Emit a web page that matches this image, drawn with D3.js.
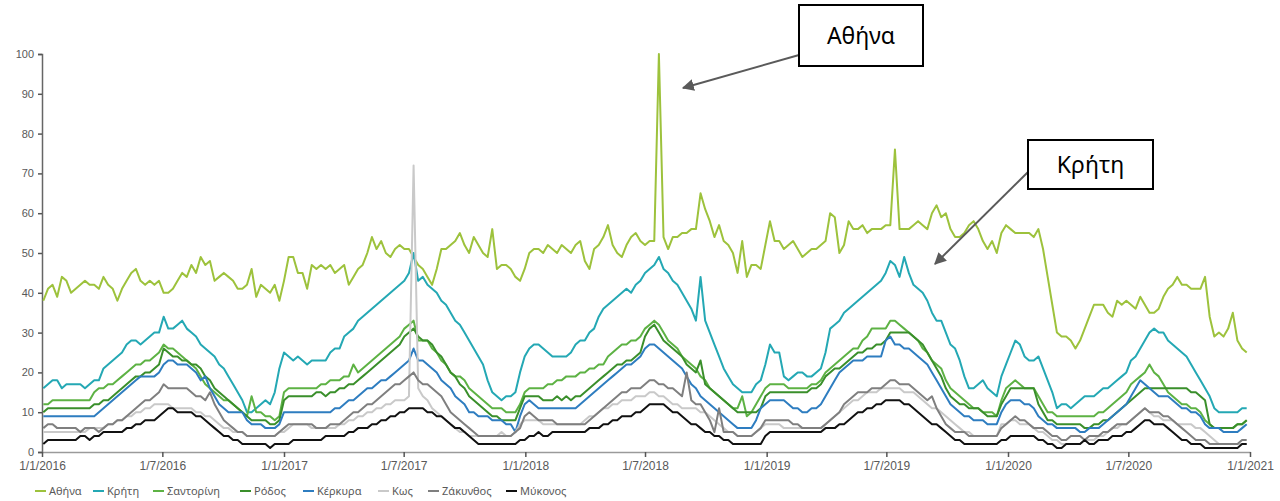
<!DOCTYPE html>
<html><head><meta charset="utf-8">
<script src="https://cdn.jsdelivr.net/npm/d3@7"></script>
<style>
body{margin:0;background:#fff;}
svg{display:block;font-family:"Noto Sans","Open Sans",sans-serif;}
</style></head>
<body><svg id="c" width="1280" height="501"></svg>
<script>
// Weekly observations starting 2016-01-03 (one value per week, 261 weeks)
const startWeek = "2016-01-03";
const seriesNames = ["Αθήνα","Κρήτη","Σαντορίνη","Ρόδος","Κέρκυρα","Κως","Ζάκυνθος","Μύκονος"];
const yTicks = [0,10,20,30,40,50,60,70,80,90,100];
const xTickLabels = ["1/1/2016","1/7/2016","1/1/2017","1/7/2017","1/1/2018","1/7/2018","1/1/2019","1/7/2019","1/1/2020","1/7/2020","1/1/2021"];

const athens = [
38,41,42,39,44,43,40,41,42,43,42,42,41,44,42,41,38,41,43,45,46,43,42,43,42,43,
40,40,41,43,45,44,47,45,49,47,48,43,44,45,44,43,41,41,42,46,39,42,41,40,42,38,
43,49,49,45,45,41,47,46,47,46,47,45,46,47,42,44,46,47,50,54,51,53,50,49,51,52,
51,51,49,47,46,44,42,46,51,51,52,53,55,52,50,54,52,50,49,56,46,47,47,46,44,43,
46,50,51,51,50,52,51,50,52,51,50,52,53,48,46,51,52,54,57,52,50,49,52,54,55,53,
52,53,53,100,54,51,54,54,55,55,56,56,65,61,58,54,57,53,52,50,45,53,44,47,47,46,
52,58,53,53,51,52,53,51,49,50,51,51,52,53,60,59,50,52,58,56,56,57,55,56,56,56,
57,57,76,56,56,56,57,58,57,56,60,62,59,60,56,54,54,55,57,58,56,53,51,53,50,55,
57,56,55,55,55,55,54,56,51,44,37,30,29,29,28,26,28,31,34,37,37,37,35,34,38,37,
38,37,36,39,37,35,35,36,39,41,42,44,42,42,41,41,41,44,34,29,30,29,31,35,28,26,
25];
const crete = [
16,17,18,18,16,17,17,17,17,16,17,18,18,21,22,23,24,25,27,28,28,27,28,29,30,30,
34,31,31,32,33,31,30,29,27,26,25,24,22,21,19,17,15,13,10,10,11,12,13,12,15,21,
25,24,23,24,23,22,23,23,23,23,25,26,26,29,30,31,33,34,35,36,37,38,39,40,41,42,
43,45,50,43,44,42,41,40,38,37,35,33,32,30,28,26,24,22,18,15,14,13,14,14,15,20,
24,26,27,27,26,25,24,24,24,24,25,27,28,28,30,31,34,36,37,38,39,40,41,40,42,43,
45,46,47,49,46,45,43,42,40,38,36,33,44,33,30,27,24,21,19,17,16,15,15,15,17,18,
22,27,25,25,19,18,19,20,20,19,19,20,21,25,31,32,33,35,36,37,38,39,40,41,42,43,
45,48,47,44,49,45,42,41,40,38,35,33,33,30,27,26,23,19,16,16,17,18,16,15,14,19,
22,25,28,27,24,23,23,24,21,18,15,11,12,12,11,12,13,14,14,14,15,16,16,17,18,19,
20,23,24,26,28,30,31,30,30,28,27,26,25,24,22,20,18,16,14,11,10,10,10,10,10,11,
11];
const santorini = [
12,12,13,13,13,13,13,13,13,13,13,15,16,16,17,17,18,19,20,21,22,22,23,23,24,25,
27,26,26,25,24,23,22,21,19,17,16,15,14,13,13,12,11,10,9,14,10,10,9,9,8,9,
15,16,16,16,16,16,16,16,17,17,18,18,18,19,19,22,20,21,22,23,24,25,26,27,28,29,
31,32,33,28,28,28,26,25,23,22,20,19,19,18,16,15,14,13,12,11,11,11,10,10,10,12,
15,16,16,16,16,17,17,18,18,19,19,19,20,20,21,21,22,22,24,25,26,27,27,28,28,29,
31,32,33,32,30,28,27,26,24,23,22,21,19,18,16,15,14,13,12,11,11,14,9,10,12,14,
16,17,17,17,17,16,16,16,16,16,17,17,18,20,21,22,23,24,25,26,26,28,29,31,31,31,
31,33,33,32,31,30,29,28,26,25,23,22,21,18,16,15,14,13,12,11,11,10,10,10,9,13,
16,17,18,17,16,16,16,14,12,10,10,9,9,9,9,9,9,9,9,9,10,10,11,12,13,14,
15,17,18,19,20,22,20,19,17,15,14,13,12,12,11,11,10,8,7,6,6,6,6,6,7,7,
8];
const rhodes = [
10,11,11,11,11,11,11,11,11,11,11,12,12,13,13,14,15,16,17,18,19,19,20,20,21,22,
26,25,24,24,23,23,22,22,21,19,18,16,15,14,13,12,11,10,9,8,8,8,8,7,7,8,
13,14,14,14,14,14,14,15,15,14,15,15,16,16,17,17,18,19,20,21,22,23,24,25,26,27,
29,30,31,29,28,28,27,25,24,22,20,19,17,16,14,13,12,11,10,9,9,8,8,8,8,11,
14,14,14,14,13,13,13,14,13,14,13,14,14,15,16,17,18,19,20,21,22,22,23,23,24,25,
29,31,32,30,28,27,26,25,24,22,21,20,23,17,16,15,14,13,12,11,10,10,10,10,10,11,
14,15,15,15,15,15,15,15,15,15,16,16,17,19,20,21,21,22,23,24,25,25,26,26,27,27,
28,30,30,30,30,30,29,28,27,25,23,21,19,16,14,13,12,12,11,11,11,10,9,9,9,12,
14,16,16,16,16,16,16,12,10,8,8,7,7,7,7,7,7,6,6,7,7,8,8,9,10,11,
12,13,14,15,16,16,16,16,16,16,16,16,16,16,15,15,14,13,7,6,6,6,6,6,7,7,
8];
const kerkyra = [
9,9,9,9,9,9,9,9,9,9,9,9,10,11,12,13,14,15,16,17,18,19,19,19,19,20,
22,23,23,22,22,22,21,20,18,19,16,14,12,11,10,10,10,10,8,7,7,7,6,6,6,7,
10,10,10,10,10,10,10,10,10,10,10,11,11,12,13,13,14,15,16,16,17,18,18,19,20,21,
22,23,26,23,23,22,21,20,18,17,16,14,13,12,10,10,9,9,9,8,8,8,7,7,5,9,
12,13,12,11,11,11,11,11,11,11,11,11,12,13,14,15,16,17,18,19,20,21,22,22,23,24,
26,27,27,26,25,24,23,22,21,19,17,16,14,13,12,11,10,9,8,7,6,6,6,6,8,11,
12,13,13,13,13,12,11,11,10,10,11,11,12,14,16,18,20,21,22,23,23,23,24,24,24,24,
28,29,27,27,26,26,25,24,23,22,20,18,16,14,12,11,10,9,9,8,8,8,7,7,7,10,
12,13,13,13,12,12,11,9,8,7,7,6,6,6,6,6,5,5,6,6,6,7,8,9,10,11,
12,14,16,18,17,16,15,14,14,14,13,12,11,11,10,10,9,7,6,6,6,5,5,5,5,6,
7];
const kos = [
5,5,5,5,5,5,5,5,5,5,6,6,6,6,7,7,8,8,9,9,10,10,11,11,12,12,
12,12,11,11,11,11,11,10,10,9,9,8,7,6,6,5,5,5,4,4,4,4,4,4,4,5,
5,6,7,7,7,7,6,6,6,6,6,6,7,7,8,8,9,9,10,10,11,11,12,12,13,13,
13,14,72,16,14,13,11,10,9,8,7,6,5,5,4,4,4,4,4,4,4,5,4,4,5,7,
8,8,8,8,7,7,7,7,7,7,7,7,7,8,9,9,10,11,11,12,12,13,13,13,14,14,
14,15,15,14,14,13,12,12,11,11,11,11,10,10,9,8,7,6,5,5,4,4,4,4,5,6,
7,7,7,7,6,6,6,6,6,6,6,6,6,7,8,9,10,11,12,13,13,14,15,15,15,16,
16,16,16,16,15,15,15,14,13,12,11,11,10,9,8,7,6,5,5,4,4,4,4,4,4,7,
7,8,8,7,7,7,6,5,5,4,3,3,2,2,2,2,2,3,3,3,4,4,5,6,6,7,
7,8,9,10,11,10,9,9,8,8,8,7,7,7,7,6,6,5,4,3,2,2,2,2,2,2,
2];
const zakynthos = [
6,7,7,6,6,6,6,6,5,6,6,6,5,6,7,7,8,8,9,10,11,12,13,13,14,15,
17,16,16,16,16,16,15,14,14,13,15,12,10,8,7,6,5,5,4,4,4,4,4,4,4,5,
6,7,7,7,7,7,7,6,6,6,7,7,7,8,9,10,10,11,12,12,13,14,15,16,17,17,
18,19,20,18,17,17,16,15,14,12,10,9,8,7,6,5,4,4,4,4,4,4,4,4,5,6,
9,10,9,8,8,8,8,7,7,7,7,7,7,7,8,9,10,11,12,13,14,15,15,16,16,16,
17,18,18,17,17,16,16,15,14,20,13,12,12,10,8,5,11,5,5,5,4,4,4,4,5,6,
8,8,8,8,8,8,7,7,6,6,6,6,6,7,8,9,10,12,13,14,15,15,15,16,16,16,
17,18,18,17,17,17,16,15,14,13,14,11,9,7,6,5,5,5,4,4,4,4,4,4,4,6,
7,8,9,8,8,7,6,6,6,5,4,4,3,3,4,4,4,3,4,4,4,5,5,6,7,7,
7,8,9,10,11,10,10,10,9,9,8,7,6,5,4,3,3,3,2,2,2,2,2,2,2,3,
3];
const mykonos = [
2,3,3,3,3,3,3,3,4,4,3,4,4,5,5,5,5,5,6,6,7,7,8,8,8,9,
10,11,11,10,10,10,10,9,9,8,7,6,5,4,4,3,3,2,2,2,2,2,2,1,2,2,
2,2,3,3,3,3,3,3,3,4,4,4,4,4,5,5,6,6,6,7,7,8,8,9,9,10,
10,11,11,11,11,10,10,9,9,8,7,6,6,5,4,3,2,2,2,2,2,2,2,2,2,3,
3,4,4,5,4,4,5,5,5,5,5,5,5,5,6,6,6,7,7,8,8,9,9,9,10,10,
11,12,12,12,12,11,10,10,9,8,7,7,6,5,5,4,4,3,3,2,2,2,2,2,2,2,
4,5,5,5,5,5,5,5,5,5,5,5,5,6,6,6,7,7,8,9,10,10,11,11,12,12,
13,13,13,13,12,12,11,10,9,8,7,7,6,5,4,3,3,2,2,2,2,2,2,2,2,3,
3,4,4,4,4,4,4,3,3,2,2,1,1,2,2,2,2,3,2,2,3,3,3,4,4,4,
5,5,6,7,8,8,7,7,7,6,5,4,3,3,2,2,2,1,1,1,1,1,1,1,1,2,
2];

const seriesValues = [athens, crete, santorini, rhodes, kerkyra, kos, zakynthos, mykonos];
const colors = ["#9dc23c","#24a8b4","#5db244","#3a8f2b","#2e7dc0","#c9c9c9","#7f7f7f","#111111"];

const svg = d3.select("#c");
const parse = d3.timeParse("%Y-%m-%d");
const t0 = parse(startWeek);
const dates = athens.map((_, i) => d3.timeDay.offset(t0, 7 * i));

const x = d3.scaleTime().domain([parse("2016-01-01"), parse("2021-01-01")]).range([42, 1250]);
const y = d3.scaleLinear().domain([0, 100]).range([452, 54]);

// Y axis
const ya = svg.append("g").attr("transform", "translate(42,0)")
  .call(d3.axisLeft(y).tickValues(yTicks).tickSize(4).tickPadding(4));
ya.select(".domain").attr("stroke", "#666").attr("stroke-width", 1.5);
ya.selectAll(".tick line").attr("stroke", "#555").attr("stroke-width", 1.5);
ya.selectAll("text").attr("fill", "#595959").style("font-size", "11px");

// X axis
const xTickDates = xTickLabels.map(s => d3.timeParse("%d/%m/%Y")(s));
const xa = svg.append("g").attr("transform", "translate(0,452)")
  .call(d3.axisBottom(x).tickValues(xTickDates).tickFormat((d, i) => xTickLabels[i]).tickSize(5).tickPadding(4).tickSizeOuter(0));
xa.select(".domain").attr("stroke", "#9a9a9a").attr("stroke-width", 1.5);
xa.selectAll(".tick line").attr("stroke", "#555").attr("stroke-width", 1.5);
xa.selectAll("text").attr("fill", "#595959").style("font-size", "12px");

// Lines
const line = d3.line().x((d, i) => x(dates[i])).y(d => y(d));
seriesValues.forEach((vals, k) => {
  svg.append("path").datum(vals)
    .attr("d", line)
    .attr("fill", "none")
    .attr("stroke", colors[k])
    .attr("stroke-width", 2)
    .attr("stroke-linejoin", "round");
});

// Legend
const legendX = [35, 93, 153, 240, 303, 378, 428, 506];
const lg = svg.append("g").attr("transform", "translate(0,491)");
seriesNames.forEach((n, k) => {
  const g = lg.append("g").attr("transform", `translate(${legendX[k]},0)`);
  g.append("line").attr("x1", 0).attr("x2", 11).attr("y1", 0).attr("y2", 0)
    .attr("stroke", colors[k]).attr("stroke-width", 2);
  g.append("text").attr("x", 14).attr("y", 4).text(n)
    .attr("fill", "#595959").style("font-size", "11px");
});

// Annotations
const defs = svg.append("defs");
defs.append("marker").attr("id", "ah").attr("viewBox", "0 0 10 10")
  .attr("refX", 9).attr("refY", 5).attr("markerWidth", 6).attr("markerHeight", 6)
  .attr("orient", "auto").append("path").attr("d", "M0,0L10,5L0,10z").attr("fill", "#5a5a5a");

const annos = [
  {label: "Αθήνα", bx: 799, by: 5, bw: 124, bh: 61, from: [799, 55], to: [683, 88]},
  {label: "Κρήτη", bx: 1028, by: 140, bw: 125, bh: 49, from: [1028, 172], to: [935, 264]}
];
annos.forEach(a => {
  svg.append("line").attr("x1", a.from[0]).attr("y1", a.from[1]).attr("x2", a.to[0]).attr("y2", a.to[1])
    .attr("stroke", "#5a5a5a").attr("stroke-width", 2).attr("marker-end", "url(#ah)");
  svg.append("rect").attr("x", a.bx).attr("y", a.by).attr("width", a.bw).attr("height", a.bh)
    .attr("fill", "#fff").attr("stroke", "#000").attr("stroke-width", 2);
  svg.append("text").attr("x", a.bx + a.bw / 2).attr("y", a.by + a.bh / 2 + 8)
    .attr("text-anchor", "middle").style("font-size", "23px").attr("fill", "#000").text(a.label);
});
</script></body></html>
